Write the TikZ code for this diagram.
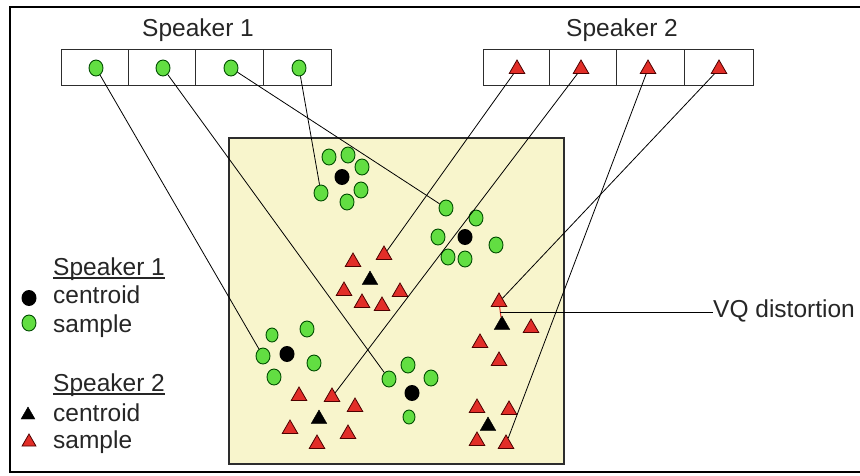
\documentclass[tikz,border=0pt]{standalone}
\usepackage{fontspec}
\setmainfont{Liberation Sans}
\usetikzlibrary{shapes.geometric}
\definecolor{ptgreen}{RGB}{98,222,66}
\definecolor{ptred}{RGB}{226,46,40}
\definecolor{ptyellow}{RGB}{248,245,204}
\definecolor{ptedge}{RGB}{45,45,45}
\definecolor{pttext}{RGB}{38,38,38}
\begin{document}
\begin{tikzpicture}[x=1pt,y=-1pt,
  gs/.style={ellipse,draw=black!70!green,line width=0.9pt,fill=ptgreen,minimum width=14pt,minimum height=16pt,inner sep=0pt},
  gc/.style={ellipse,fill=black,minimum width=15pt,minimum height=16pt,inner sep=0pt},
  rs/.style={regular polygon,regular polygon sides=3,draw=black!70!red,line width=0.8pt,fill=ptred,minimum size=18pt,inner sep=0pt,yshift=-2pt},
  rc/.style={regular polygon,regular polygon sides=3,draw=black,fill=black,minimum size=18pt,inner sep=0pt,yshift=-2pt},
  lbl/.style={font=\fontsize{24.5}{28}\selectfont,text=pttext,inner sep=0pt,anchor=base west},
  link/.style={draw=black,line width=0.8pt},
  cell/.style={draw=ptedge,line width=0.8pt,minimum height=36pt,inner sep=0pt}
]
\useasboundingbox (0,0) rectangle (860,475);
\fill[white] (0,0) rectangle (860,475);
% outer frame
\draw[line width=2pt,black] (860,7) -- (10,7) -- (10,472) -- (860,472);

% headings
\node[lbl] (h1) at (142,36) {Speaker 1};
\node[lbl] (h2) at (566,36) {Speaker 2};

% codebook cells speaker 1
\node[cell,minimum width=67pt] (a1) at (94.5,67) {};
\node[cell,minimum width=67pt] (a2) at (161.5,67) {};
\node[cell,minimum width=68pt] (a3) at (229,67) {};
\node[cell,minimum width=68pt] (a4) at (297,67) {};
% codebook cells speaker 2
\node[cell,minimum width=66pt] (b1) at (516,67) {};
\node[cell,minimum width=67pt] (b2) at (582.5,67) {};
\node[cell,minimum width=68pt] (b3) at (650,67) {};
\node[cell,minimum width=69pt] (b4) at (718.5,67) {};

% codewords
\node[gs] (cw1) at (96,68) {};
\node[gs] (cw2) at (163,68) {};
\node[gs] (cw3) at (231,68) {};
\node[gs] (cw4) at (299,68) {};
\node[rs] (tw1) at (517,67) {};
\node[rs] (tw2) at (581,67) {};
\node[rs] (tw3) at (648,67) {};
\node[rs] (tw4) at (719,67) {};

% feature space
\draw[draw=ptedge,line width=1.2pt,fill=ptyellow] (229,138) rectangle (564,464);

% speaker 1 clusters
\node[gs] (g11) at (329,157) {};
\node[gs] (g12) at (348,155) {};
\node[gs] (g13) at (362,167) {};
\node[gc] (k1)  at (342,177) {};
\node[gs] (g14) at (321,193) {};
\node[gs] (g15) at (361,190) {};
\node[gs] (g16) at (347,202) {};

\node[gs] (g21) at (446,208) {};
\node[gs] (g22) at (476,218) {};
\node[gs] (g23) at (438,237) {};
\node[gc] (k2)  at (465,237) {};
\node[gs] (g24) at (496,245) {};
\node[gs] (g25) at (448,257) {};
\node[gs] (g26) at (465,259) {};

\node[gs,minimum width=12pt,minimum height=14pt] (g31) at (272,335) {};
\node[gs] (g32) at (307,329) {};
\node[gs] (g33) at (263,356) {};
\node[gc] (k3)  at (287,354) {};
\node[gs] (g34) at (314,363) {};
\node[gs] (g35) at (274,377) {};

\node[gs] (g41) at (389,379) {};
\node[gs] (g42) at (408,365) {};
\node[gs] (g43) at (431,378) {};
\node[gc] (k4)  at (412,393) {};
\node[gs,minimum width=12pt,minimum height=14pt] (g44) at (409,417) {};

% speaker 2 clusters
\node[rs] (r11) at (353,260) {};
\node[rs] (r12) at (384,253) {};
\node[rc] (q1)  at (370,278) {};
\node[rs] (r13) at (344,289) {};
\node[rs] (r14) at (400,290) {};
\node[rs] (r15) at (362,301) {};
\node[rs] (r16) at (382,304) {};

\node[rs] (r21) at (499,300) {};
\node[rc] (q2)  at (502,323) {};
\node[rs] (r22) at (531,326) {};
\node[rs] (r23) at (480,341) {};
\node[rs] (r24) at (499,359) {};

\node[rs] (r31) at (477,406) {};
\node[rs] (r32) at (509,408) {};
\node[rc] (q3)  at (488,424) {};
\node[rs] (r33) at (477,439) {};
\node[rs] (r34) at (506,442) {};

\node[rs] (r41) at (299,394) {};
\node[rs] (r42) at (332,395) {};
\node[rs] (r43) at (355,405) {};
\node[rc] (q4)  at (319,417) {};
\node[rs] (r44) at (290,427) {};
\node[rs] (r45) at (348,432) {};
\node[rs] (r46) at (317,442) {};

% links codeword -> sample
\draw[link] (cw1) -- (g33);
\draw[link] (cw2) -- (g41);
\draw[link] (cw3) -- (g21);
\draw[link] (cw4) -- (g14);
\draw[link] (tw1) -- (r12);
\draw[link] (tw2) -- (r42);
\draw[link] (tw3) -- (r34);
\draw[link] (tw4) -- (r21);

% VQ distortion
\draw[ptred,line width=1pt] (r21) -- coordinate[pos=0.5] (vqm) (q2);
\node[lbl,anchor=west] (vq) at (713,311) {VQ distortion};
\draw[link] (vqm) -- (vqm -| vq.west) coordinate (vqe);

% legend
\node[lbl] (l1) at (53,275) {Speaker 1};
\draw[line width=1.8pt,pttext] ([yshift=-3pt]l1.base west) -- ([yshift=-3pt]l1.base east);
\node[gc] (lk1) at (29,298) {};
\node[lbl] (l1c) at (53,303) {centroid};
\node[gs] (lg1) at (29,323) {};
\node[lbl] (l1s) at (53,332) {sample};

\node[lbl] (l2) at (53,391) {Speaker 2};
\draw[line width=1.8pt,pttext] ([yshift=-3pt]l2.base west) -- ([yshift=-3pt]l2.base east);
\node[rc,minimum size=16pt] (lk2) at (28,413) {};
\node[lbl] (l2c) at (53,421) {centroid};
\node[rs,minimum size=16pt] (lr2) at (29,440) {};
\node[lbl] (l2s) at (53,448) {sample};
\end{tikzpicture}
\end{document}
